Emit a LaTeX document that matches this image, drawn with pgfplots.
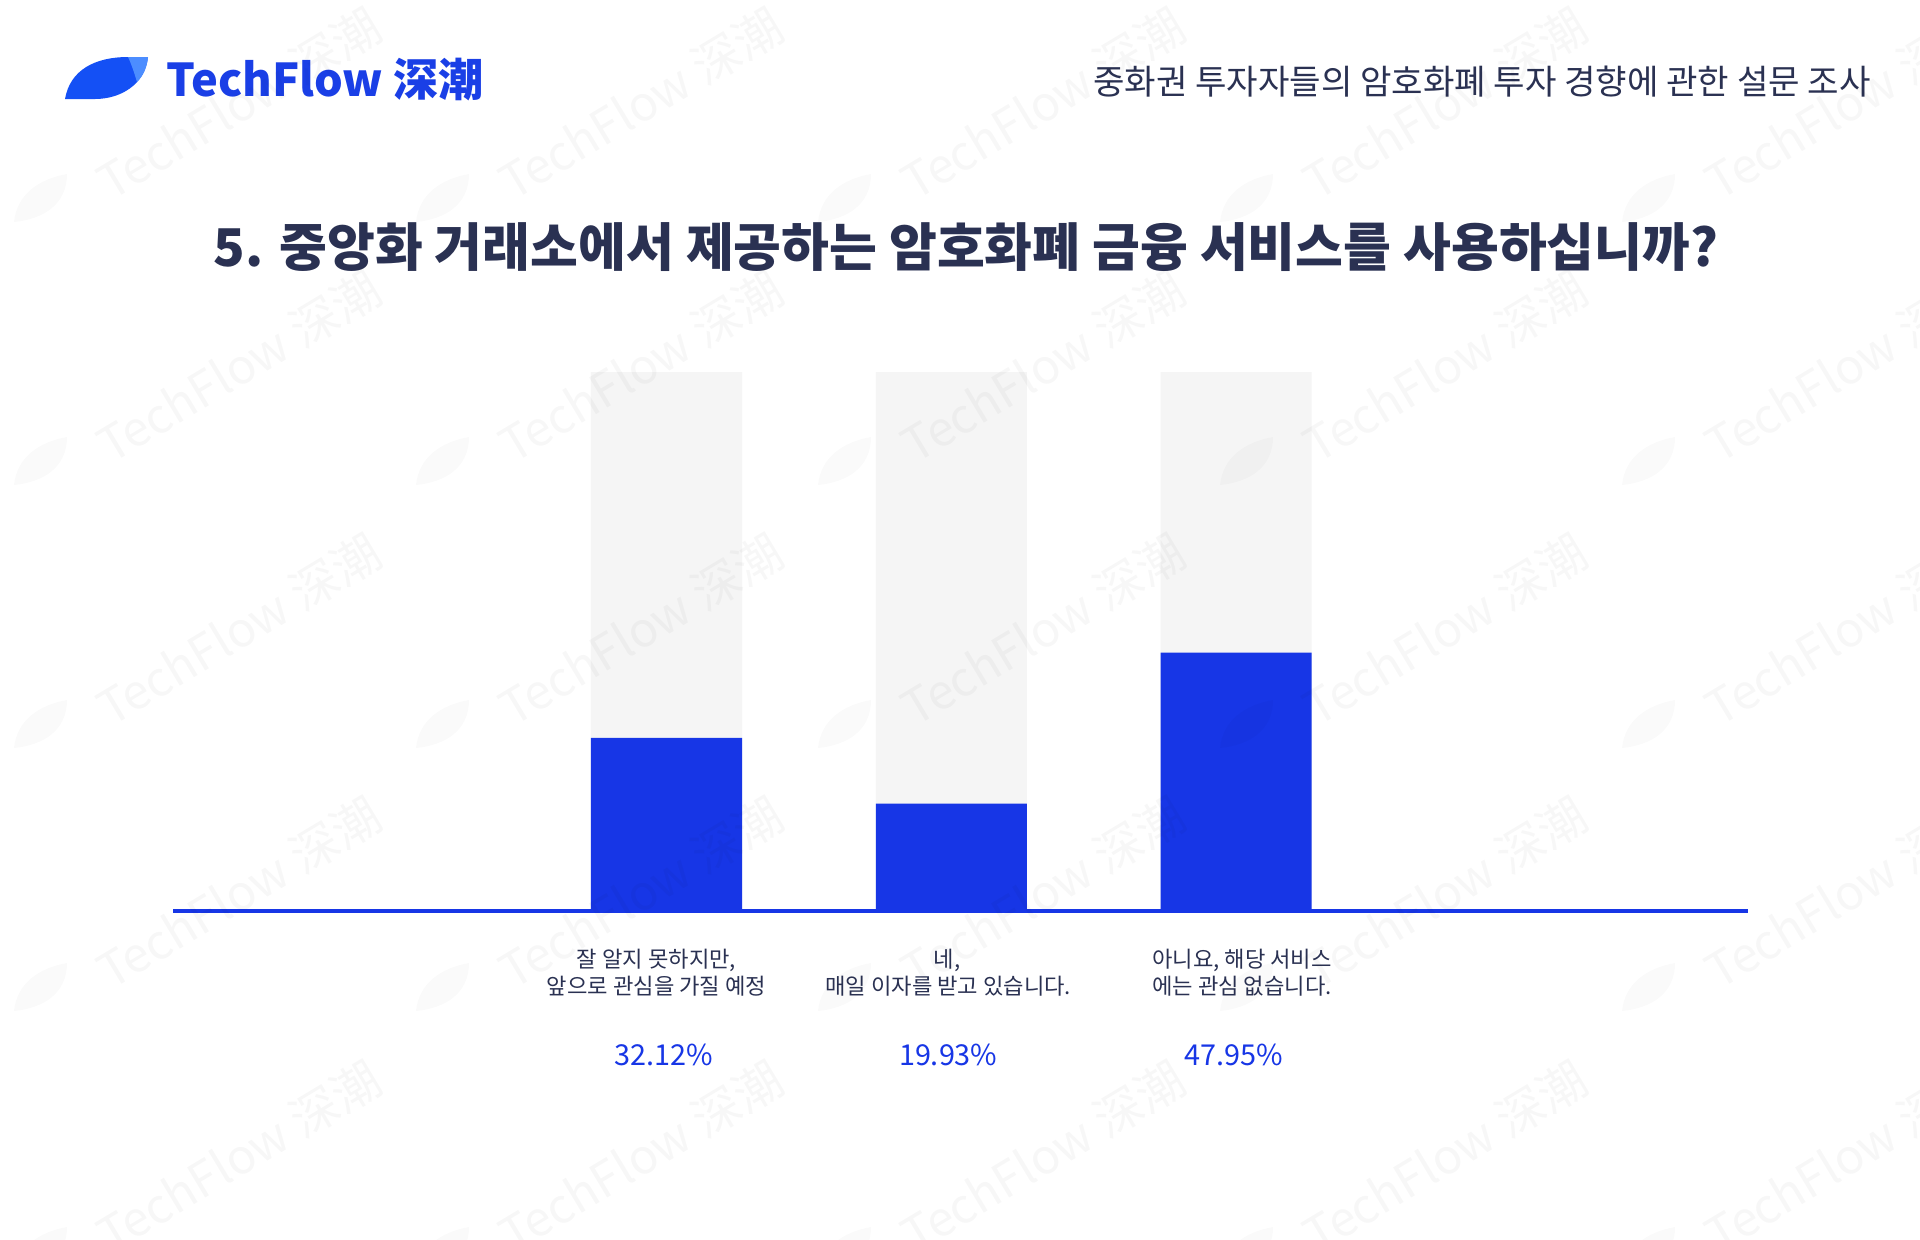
\documentclass[border=0pt]{standalone}
\usepackage{pgfplots}
\pgfplotsset{compat=1.18}
\usepackage{fontspec}
\setmainfont{Noto Sans CJK KR}
\newfontfamily\krfont{Noto Sans CJK KR}
\newfontfamily\scfont{Noto Sans CJK SC}
\definecolor{barblue}{HTML}{1736E6}
\definecolor{bgbar}{HTML}{F5F5F5}
\definecolor{navy}{HTML}{2A3152}
\definecolor{logoblue}{HTML}{1A3FE6}
\definecolor{leafA}{HTML}{1450F5}
\definecolor{leafB}{HTML}{4C8DFF}
\begin{document}
\begin{tikzpicture}
% page bounds (1920 x 1239 px at 0.5pt/px)
\useasboundingbox (0,0) rectangle (960pt,-619.5pt);
\fill[white] (0,0) rectangle (960pt,-619.5pt);
\begin{scope}[x=0.5pt,y=-0.5pt]
% logo leaf
\fill[leafA] (65,99) .. controls (70,70) and (95,57) .. (128,57) -- (148,57) .. controls (145,85) and (120,99) .. (95,99) -- cycle;
\fill[leafB] (128,57) -- (148,57) .. controls (147,68) and (143,76) .. (137,82) .. controls (134,72) and (131,63) .. (128,57) -- cycle;
\node[anchor=west, inner sep=0pt, text=logoblue, font=\scfont\bfseries\fontsize{22.6pt}{26pt}\selectfont] at (166,80) {TechFlow 深潮};
% header right
\node[anchor=east, inner sep=0pt, text=navy, font=\krfont\fontsize{17.1pt}{20pt}\selectfont] at (1871,82) {중화권 투자자들의 암호화폐 투자 경향에 관한 설문 조사};
% title
\node[anchor=center, inner sep=0pt, text=navy, font=\krfont\bfseries\fontsize{26pt}{30pt}\selectfont] at (966,247) {5. 중앙화 거래소에서 제공하는 암호화폐 금융 서비스를 사용하십니까?};
\end{scope}
\begin{axis}[
  at={(86.5pt,-455.5pt)}, anchor=south west,
  scale only axis, width=787.5pt, height=269.5pt,
  xmin=-0.733, xmax=4.798, ymin=0, ymax=100,
  hide axis, clip=false,
  ybar, bar shift=0pt, bar width=75.5pt,
]
\addplot[fill=bgbar, draw=none] coordinates {(1,100) (2,100) (3,100)};
\addplot[fill=barblue, draw=none] coordinates {(1,32.12) (2,19.93) (3,47.95)};
\draw[barblue, line width=1.6pt] (rel axis cs:0,0) -- (rel axis cs:1,0);
\tikzset{cat/.style={anchor=base, inner sep=0pt, text=navy, font=\krfont\fontsize{11.1pt}{13pt}\selectfont},
         pct/.style={anchor=base, inner sep=0pt, text=barblue, font=\krfont\fontsize{14.4pt}{16pt}\selectfont}}
\node[cat, yshift=-28pt, xshift=-5pt] at (axis cs:1,0) {잘 알지 못하지만,};
\node[cat, yshift=-41.5pt, xshift=-5pt] at (axis cs:1,0) {앞으로 관심을 가질 예정};
\node[cat, yshift=-28pt, xshift=-2pt] at (axis cs:2,0) {네,};
\node[cat, yshift=-41.5pt, xshift=-1.5pt] at (axis cs:2,0) {매일 이자를 받고 있습니다.};
\node[cat, yshift=-28pt, xshift=3pt] at (axis cs:3,0) {아니요, 해당 서비스};
\node[cat, yshift=-41.5pt, xshift=3pt] at (axis cs:3,0) {에는 관심 없습니다.};
\node[pct, yshift=-77pt, xshift=-1.5pt] at (axis cs:1,0) {32.12\%};
\node[pct, yshift=-77pt, xshift=-1.5pt] at (axis cs:2,0) {19.93\%};
\node[pct, yshift=-77pt, xshift=-1pt] at (axis cs:3,0) {47.95\%};
\end{axis}
% watermarks
\begin{scope}[x=0.5pt,y=-0.5pt]
\clip (0,0) rectangle (1920,1239);
\foreach \cx in {239,641,1043,1445,1847}{
  \foreach \cy in {104,367,630,893,1157}{
    \node[rotate=31, opacity=0.03, text=black, font=\scfont\fontsize{24pt}{28pt}\selectfont] at (\cx,\cy) {TechFlow 深潮};
    \fill[black, opacity=0.02] ({\cx-225},{\cy+118}) .. controls ({\cx-222},{\cy+90}) and ({\cx-200},{\cy+75}) .. ({\cx-172},{\cy+70}) .. controls ({\cx-172},{\cy+100}) and ({\cx-195},{\cy+115}) .. ({\cx-225},{\cy+118}) -- cycle;
  }
}
\end{scope}
\end{tikzpicture}
\end{document}
